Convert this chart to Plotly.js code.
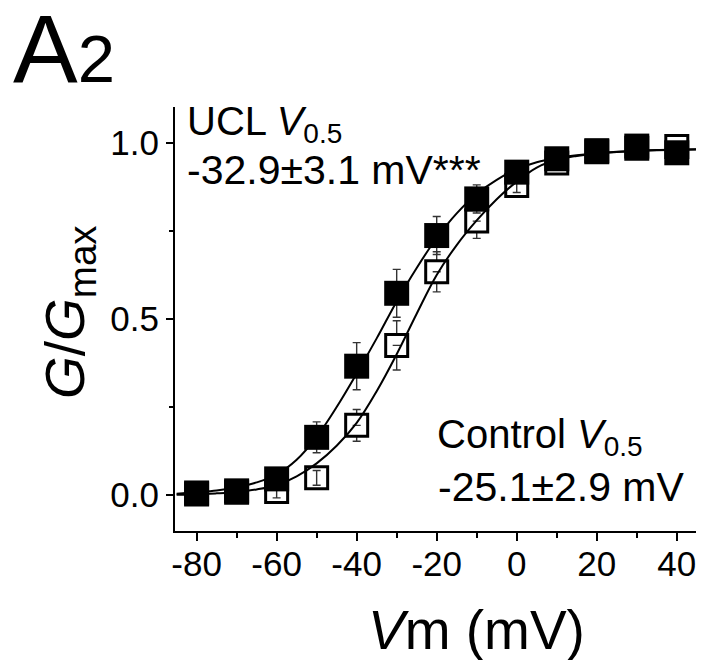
<!DOCTYPE html>
<html>
<head>
<meta charset="utf-8">
<script src="https://cdn.plot.ly/plotly-3.0.1.min.js"></script>
<style>html,body{margin:0;padding:0;background:#fff;}#chart{width:701px;height:660px;}</style>
</head>
<body>
<div id="chart"></div>
<script>
// Membrane potential steps (mV)
const vm = [-80, -70, -60, -50, -40, -30, -20, -10, 0, 10, 20, 30, 40];
// UCL (filled squares) G/Gmax and SEM
const uclG   = [0.006, 0.012, 0.046, 0.164, 0.366, 0.573, 0.737, 0.841, 0.917, 0.955, 0.978, 0.991, 0.972];
const uclErr = [0.005, 0.008, 0.015, 0.044, 0.067, 0.068, 0.054, 0.040, 0.020, 0.015, 0.010, 0.010, 0.010];
// Control (open squares) G/Gmax and SEM
const ctrlG   = [0.003, 0.008, 0.010, 0.049, 0.198, 0.425, 0.634, 0.778, 0.879, 0.943, 0.975, 0.985, 0.990];
const ctrlErr = [0.003, 0.005, 0.018, 0.021, 0.045, 0.070, 0.057, 0.049, 0.020, 0.015, 0.010, 0.010, 0.010];
// Fitted Boltzmann curves
const fitV    = [-85, -80, -75, -70, -65, -60, -55, -50, -45, -40, -35, -30, -25, -20, -15, -10, -5, 0, 5, 10, 15, 20, 25, 30, 35, 40, 45];
const uclFit  = [0.004, 0.008, 0.013, 0.022, 0.036, 0.058, 0.100, 0.165, 0.250, 0.345, 0.445, 0.550, 0.645, 0.730, 0.800, 0.855, 0.895, 0.925, 0.945, 0.957, 0.965, 0.971, 0.975, 0.978, 0.980, 0.981, 0.982];
const ctrlFit = [0.001, 0.002, 0.005, 0.009, 0.016, 0.028, 0.053, 0.090, 0.140, 0.205, 0.295, 0.400, 0.515, 0.625, 0.710, 0.780, 0.840, 0.890, 0.930, 0.952, 0.963, 0.970, 0.974, 0.977, 0.979, 0.980, 0.981];
// Tick labels
const xTickVals = [-80, -60, -40, -20, 0, 20, 40];
const xTickText = ['-80', '-60', '-40', '-20', '0', '20', '40'];
const yTickVals = [0, 0.5, 1.0];
const yTickText = ['0.0', '0.5', '1.0'];
// Text
const panelLabel = 'A<span style="font-size:67px">2</span>';
const uclLine1 = 'UCL <i>V</i><sub>0.5</sub>';
const uclLine2 = '-32.9±3.1 mV***';
const ctrlLine1 = 'Control <i>V</i><sub>0.5</sub>';
const ctrlLine2 = '-25.1±2.9 mV';
const xTitle = '<i>V</i>m (mV)';
const yTitle = '<i>G</i>/<i>G</i><sub>max</sub>';

const FONT = 'Liberation Sans, Arial, Helvetica, sans-serif';
const W = 701, H = 660;
const M = {l: 175, r: 5, t: 107, b: 129};
const pw = W - M.l - M.r, ph = H - M.t - M.b;
const px = x => (x - M.l) / pw;
const py = y => (H - M.b - y) / ph;

// error bars small enough to sit inside the open square are drawn on top
const halfSquareG = 12 / (ph / 1.204);
const ctrlErrInside = ctrlErr.map(e => e < halfSquareG ? e : null);

const errStyle = {type: 'data', visible: true, color: '#333', thickness: 1.4, width: 4};

const traces = [
  {x: vm, y: ctrlG, mode: 'markers', type: 'scatter', cliponaxis: false,
   marker: {symbol: 'square', size: 22, color: '#fff', line: {color: '#000', width: 3}},
   error_y: Object.assign({array: ctrlErr}, errStyle)},
  {x: vm, y: ctrlG, mode: 'markers', type: 'scatter', cliponaxis: false,
   marker: {symbol: 'square', size: 1, color: 'rgba(0,0,0,0)'},
   error_y: Object.assign({array: ctrlErrInside}, errStyle)},
  {x: fitV, y: ctrlFit, mode: 'lines', type: 'scatter', line: {color: '#000', width: 2, shape: 'spline'}},
  {x: fitV, y: uclFit, mode: 'lines', type: 'scatter', line: {color: '#000', width: 2, shape: 'spline'}},
  {x: vm, y: uclG, mode: 'markers', type: 'scatter', cliponaxis: false,
   marker: {symbol: 'square', size: 25, color: '#000', line: {width: 0}},
   error_y: Object.assign({array: uclErr}, errStyle)}
];

const tickFont = {family: FONT, size: 35, color: '#000'};
const layout = {
  width: W, height: H,
  margin: M,
  paper_bgcolor: '#fff', plot_bgcolor: '#fff',
  showlegend: false,
  xaxis: {
    range: [-85.4, 44.8], showgrid: false, zeroline: false,
    showline: true, linecolor: '#000', linewidth: 2,
    ticks: 'outside', ticklen: 8, tickwidth: 2, tickcolor: '#000',
    tickmode: 'array', tickvals: xTickVals, ticktext: xTickText, tickfont: tickFont,
    ticklabelstandoff: -7,
    minor: {ticks: 'outside', ticklen: 5, tickwidth: 2, tickcolor: '#000', dtick: 10, tick0: 0, showgrid: false}
  },
  yaxis: {
    range: [-0.102, 1.102], showgrid: false, zeroline: false,
    showline: true, linecolor: '#000', linewidth: 2,
    ticks: 'outside', ticklen: 7, tickwidth: 2, tickcolor: '#000',
    tickmode: 'array', tickvals: yTickVals, ticktext: yTickText, tickfont: tickFont,
    minor: {ticks: 'outside', ticklen: 4, tickwidth: 2, tickcolor: '#000', dtick: 0.25, tick0: 0, showgrid: false}
  },
  annotations: [
    {text: panelLabel, xref: 'paper', yref: 'paper', x: px(11), y: py(-8), xanchor: 'left', yanchor: 'top',
     showarrow: false, font: {family: FONT, size: 97, color: '#000'}},
    {text: uclLine1, xref: 'paper', yref: 'paper', x: px(185), y: py(97), xanchor: 'left', yanchor: 'top',
     showarrow: false, font: {family: FONT, size: 40, color: '#000'}},
    {text: uclLine2, xref: 'paper', yref: 'paper', x: px(185), y: py(145), xanchor: 'left', yanchor: 'top',
     showarrow: false, font: {family: FONT, size: 41, color: '#000'}},
    {text: ctrlLine1, xref: 'paper', yref: 'paper', x: px(435), y: py(410), xanchor: 'left', yanchor: 'top',
     showarrow: false, font: {family: FONT, size: 40, color: '#000'}},
    {text: ctrlLine2, xref: 'paper', yref: 'paper', x: px(436), y: py(462), xanchor: 'left', yanchor: 'top',
     showarrow: false, font: {family: FONT, size: 41, color: '#000'}},
    {text: xTitle, xref: 'paper', yref: 'paper', x: px(366), y: py(597), xanchor: 'left', yanchor: 'top',
     showarrow: false, font: {family: FONT, size: 55, color: '#000'}},
    {text: yTitle, xref: 'paper', yref: 'paper', x: px(32), y: py(312), xanchor: 'left', yanchor: 'middle',
     textangle: -90, showarrow: false, font: {family: FONT, size: 55, color: '#000'}}
  ]
};

Plotly.newPlot('chart', traces, layout, {staticPlot: true, displayModeBar: false});
</script>
</body>
</html>
